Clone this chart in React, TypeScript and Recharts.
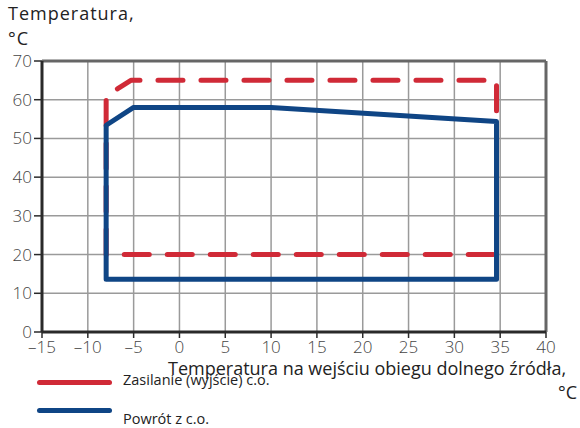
import React from 'react';
import { LineChart, Line, XAxis, YAxis, CartesianGrid, ReferenceLine } from 'recharts';

const xTicks = [-15, -10, -5, 0, 5, 10, 15, 20, 25, 30, 35, 40];
const yTicks = [0, 10, 20, 30, 40, 50, 60, 70];

// Zasilanie (wyjście) c.o.
const supplyX = [-8, -8, -5.3, 34.6, 34.6, -8];
const supplyY = [20, 61, 65, 65, 20, 20];

// Powrót z c.o.
const returnX = [-8, -8, -5, 10, 34.6, 34.6, -8];
const returnY = [13.6, 53.4, 58, 58, 54.4, 13.6, 13.6];

const supply = supplyX.map((x, i) => ({ x, y: supplyY[i] }));
const ret = returnX.map((x, i) => ({ x, y: returnY[i] }));

const RED = '#d02a37';
const BLUE = '#0f4585';
const FONT = '"Open Sans", sans-serif';

const legendItems = [
  { label: 'Zasilanie (wyjście) c.o.', color: RED, top: 380, textTop: 370 },
  { label: 'Powrót z c.o.', color: BLUE, top: 408, textTop: 409 },
];

const App: React.FC = () => {
  return (
    <div style={{ position: 'absolute', left: 0, top: 0, width: 580, height: 428, fontFamily: FONT, color: '#222' }}>
      <LineChart width={580} height={428} data={supply} margin={{ top: 61, right: 34, left: 0, bottom: 66 }}>
        <CartesianGrid stroke="#9a9a9a" strokeWidth={1.5} vertical horizontal />
        <XAxis
          dataKey="x"
          type="number"
          domain={[-15, 40]}
          ticks={xTicks}
          height={30}
          interval={0}
          axisLine={{ stroke: '#2a2a2a', strokeWidth: 3 }}
          tickLine={{ stroke: '#2a2a2a', strokeWidth: 1.5 }}
          tickSize={6}
          tick={{ fill: '#444', fontSize: 17, fontWeight: 300, fontFamily: FONT, dy: 1 }}
          tickFormatter={(v: number) => (v < 0 ? `\u2013${Math.abs(v)}` : String(v))}
        />
        <YAxis
          type="number"
          domain={[0, 70]}
          ticks={yTicks}
          width={42}
          interval={0}
          axisLine={{ stroke: '#2a2a2a', strokeWidth: 3 }}
          tickLine={{ stroke: '#2a2a2a', strokeWidth: 1.5 }}
          tickSize={8}
          tick={{ fill: '#444', fontSize: 17, fontWeight: 300, fontFamily: FONT }}
        />
        <ReferenceLine x={40} stroke="#666" strokeWidth={3} />
        <ReferenceLine y={70} stroke="#666" strokeWidth={3} />
        <Line
          data={supply}
          dataKey="y"
          stroke={RED}
          strokeWidth={5}
          strokeDasharray="25 18"
          strokeLinecap="round"
          strokeLinejoin="round"
          dot={false}
          isAnimationActive={false}
          type="linear"
        />
        <Line
          data={ret}
          dataKey="y"
          stroke={BLUE}
          strokeWidth={5}
          strokeLinejoin="round"
          strokeLinecap="round"
          dot={false}
          isAnimationActive={false}
          type="linear"
        />
      </LineChart>
      <div style={{ position: 'absolute', left: 8, top: 1, fontSize: 18, lineHeight: '25px', letterSpacing: 1 }}>
        Temperatura,<br />°C
      </div>
      <div style={{ position: 'absolute', left: 168, top: 356, fontSize: 18, whiteSpace: 'nowrap' }}>
        Temperatura na wejściu obiegu dolnego źródła,
      </div>
      <div style={{ position: 'absolute', right: 3, top: 380, fontSize: 18 }}>°C</div>
      {legendItems.map((it) => (
        <React.Fragment key={it.label}>
          <div style={{ position: 'absolute', left: 37, top: it.top, width: 75, height: 5, borderRadius: 3, background: it.color }} />
          <span style={{ position: 'absolute', left: 123, top: it.textTop, whiteSpace: 'nowrap', fontSize: 14.5, color: '#222' }}>{it.label}</span>
        </React.Fragment>
      ))}
    </div>
  );
};

export default App;
